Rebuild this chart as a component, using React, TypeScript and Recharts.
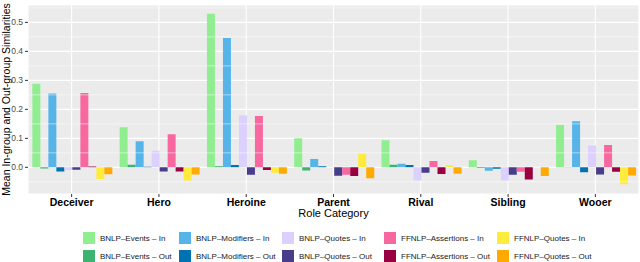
import React from "react";
import {BarChart, Bar, XAxis, YAxis, CartesianGrid, ReferenceLine} from "recharts";

const categories = ["Deceiver", "Hero", "Heroine", "Parent", "Rival", "Sibling", "Wooer"];

const bnlpEventsIn = [0.288, 0.138, 0.53, 0.1, 0.093, 0.024, 0.146];
const bnlpEventsOut = [-0.004, 0.009, 0.004, -0.011, 0.009, -0.002, 0.001];
const bnlpModifiersIn = [0.255, 0.09, 0.446, 0.029, 0.012, -0.012, 0.159];
const bnlpModifiersOut = [-0.014, 0.002, 0.008, 0.004, 0.008, -0.005, -0.017];
const bnlpQuotesIn = [-0.009, 0.057, 0.18, -0.001, -0.045, -0.045, 0.075];
const bnlpQuotesOut = [-0.008, -0.014, -0.026, -0.029, -0.019, -0.026, -0.025];
const ffnlpAssertionsIn = [0.256, 0.114, 0.177, -0.026, 0.022, -0.015, 0.077];
const ffnlpAssertionsOut = [0.003, -0.014, -0.009, -0.03, -0.023, -0.042, -0.015];
const ffnlpQuotesIn = [-0.04, -0.045, -0.019, 0.047, 0.007, -0.001, -0.058];
const ffnlpQuotesOut = [-0.024, -0.025, -0.022, -0.038, -0.022, -0.03, -0.028];

const yTicks = [0, 0.1, 0.2, 0.3, 0.4, 0.5];
const yMinor = [-0.05, 0.05, 0.15, 0.25, 0.35, 0.45, 0.55];

const series = [
    {key: "bnlpEventsIn", name: "BNLP–Events – In", color: "#90EE90", values: bnlpEventsIn},
    {key: "bnlpEventsOut", name: "BNLP–Events – Out", color: "#3CB371", values: bnlpEventsOut},
    {key: "bnlpModifiersIn", name: "BNLP–Modifiers – In", color: "#56B4E9", values: bnlpModifiersIn},
    {key: "bnlpModifiersOut", name: "BNLP–Modifiers – Out", color: "#0072B2", values: bnlpModifiersOut},
    {key: "bnlpQuotesIn", name: "BNLP–Quotes – In", color: "#DCD0FF", values: bnlpQuotesIn},
    {key: "bnlpQuotesOut", name: "BNLP–Quotes – Out", color: "#483D8B", values: bnlpQuotesOut},
    {key: "ffnlpAssertionsIn", name: "FFNLP–Assertions – In", color: "#F768A1", values: ffnlpAssertionsIn},
    {key: "ffnlpAssertionsOut", name: "FFNLP–Assertions – Out", color: "#990042", values: ffnlpAssertionsOut},
    {key: "ffnlpQuotesIn", name: "FFNLP–Quotes – In", color: "#FFEB3B", values: ffnlpQuotesIn},
    {key: "ffnlpQuotesOut", name: "FFNLP–Quotes – Out", color: "#FFAA00", values: ffnlpQuotesOut},
];

const data = categories.map((c, i) => {
    const row: any = {name: c};
    series.forEach(s => {
        row[s.key] = s.values[i];
    });
    return row;
});

const FONT = "'Liberation Sans', Arial, sans-serif";

// legend columns: In row on top, Out row below
const legendCols = [83, 179, 282, 384, 497];

const App = () => {
    return (
        <div style={{position: "absolute", left: 0, top: 0, width: 640, height: 262, fontFamily: FONT}}>
            <BarChart
                width={640}
                height={262}
                data={data}
                margin={{top: 5, right: 1, left: 0, bottom: 40}}
                barCategoryGap="5%"
                barGap={0}
            >
                <CartesianGrid fill="#EBEBEB" stroke="#FFFFFF" strokeWidth={1.1}/>
                {yMinor.map(v => (
                    <ReferenceLine key={v} y={v} stroke="#FFFFFF" strokeWidth={0.5}/>
                ))}
                <XAxis
                    dataKey="name"
                    axisLine={false}
                    tickSize={3}
                    tickLine={{stroke: "#333333"}}
                    height={28}
                    tick={{fontSize: 10.5, fontWeight: "bold", fill: "#000000", fontFamily: FONT}}
                    label={{
                        content: () => (
                            <text x={333.5} y={217} textAnchor="middle" fontSize={11} fill="#000000" fontFamily={FONT}>
                                Role Category
                            </text>
                        )
                    }}
                />
                <YAxis
                    width={28}
                    domain={[-0.092, 0.56]}
                    ticks={yTicks}
                    allowDataOverflow
                    axisLine={false}
                    tickSize={3}
                    tickLine={{stroke: "#333333"}}
                    tickFormatter={(v: number) => v.toFixed(1)}
                    tick={{fontSize: 8.5, fill: "#4D4D4D", fontFamily: FONT}}
                    label={{
                        content: () => (
                            <text x={5.5} y={99.5} transform="rotate(-90 5.5 99.5)" textAnchor="middle"
                                  dominantBaseline="central" fontSize={10.5} fill="#000000" fontFamily={FONT}>
                                Mean In-group and Out-group Similarities
                            </text>
                        )
                    }}
                />
                {series.map(s => (
                    <Bar
                        key={s.key}
                        dataKey={s.key}
                        name={s.name}
                        fill={s.color}
                        isAnimationActive={false}
                    />
                ))}
            </BarChart>
            {[0, 1].map(row => (
                legendCols.map((x, col) => {
                    const s = series[col * 2 + row];
                    return (
                        <div key={s.key} style={{
                            position: "absolute",
                            left: x,
                            top: 231 + row * 18,
                            height: 14,
                            display: "flex",
                            alignItems: "center",
                            whiteSpace: "nowrap"
                        }}>
                            <div style={{width: 12, height: 12, background: s.color}}/>
                            <span style={{marginLeft: 5, fontSize: 8, color: "#1A1A1A"}}>{s.name}</span>
                        </div>
                    );
                })
            ))}
        </div>
    );
};

export default App;
